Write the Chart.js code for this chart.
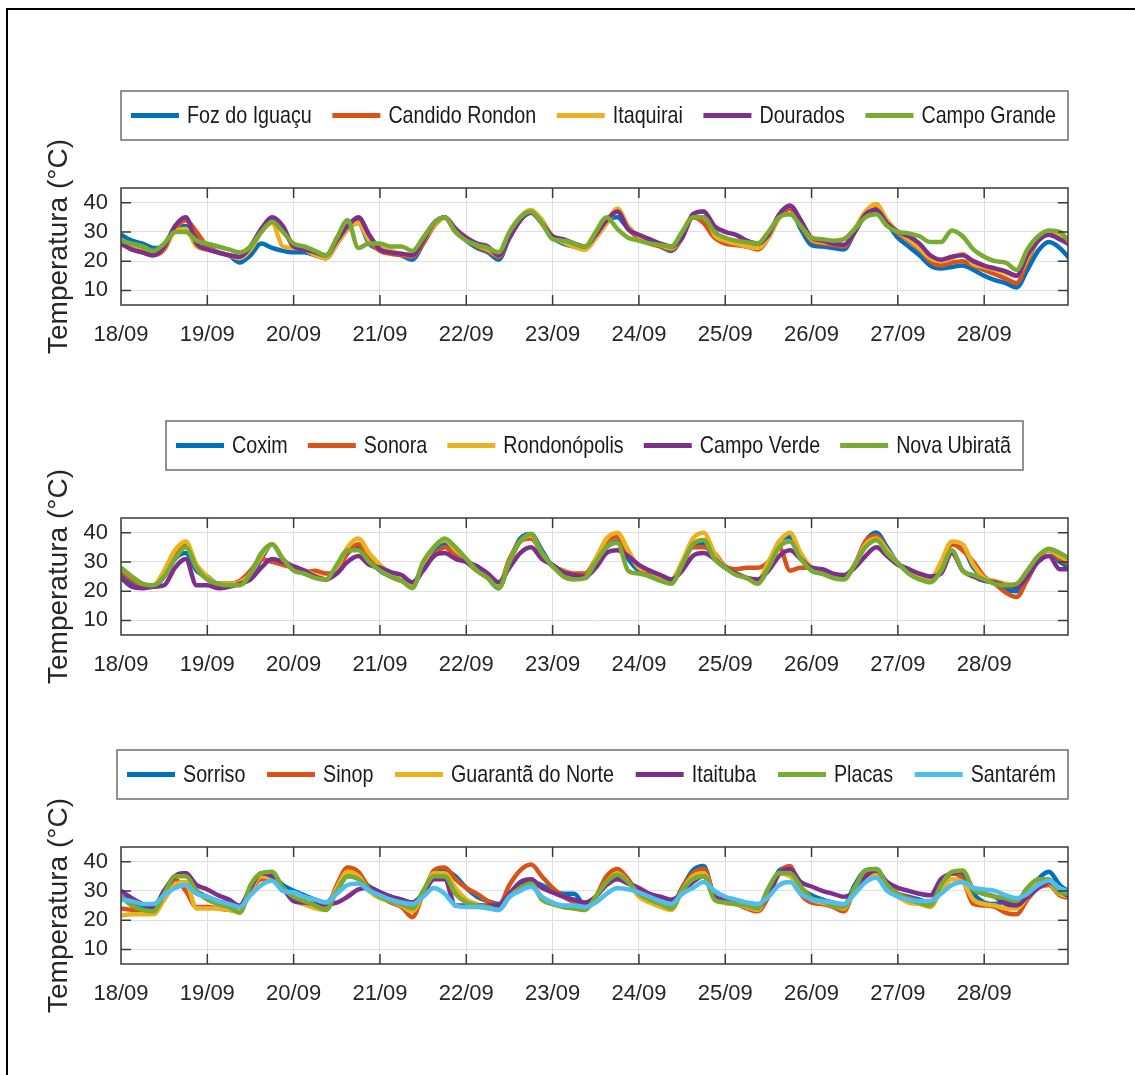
<!DOCTYPE html>
<html><head><meta charset="utf-8">
<script src="https://cdn.jsdelivr.net/npm/chart.js@4.4.1/dist/chart.umd.min.js"></script>
<style>
html,body{margin:0;padding:0;background:#fff;width:1135px;height:1075px;overflow:hidden}
#frame{position:absolute;left:6px;top:8px;right:0;bottom:0;border-top:2px solid #000;border-left:2px solid #000}
canvas{position:absolute;left:0}
</style></head><body>
<div id="frame"></div>
<canvas id="p1" width="1135" height="285" style="top:80px"></canvas>
<canvas id="p2" width="1135" height="285" style="top:410px"></canvas>
<canvas id="p3" width="1135" height="285" style="top:739px"></canvas>
<script>
// ---------- DATA ----------
// time axis: hours since 18/09 00:00, every 3 h
const hours = Array.from({length: 89}, (_, i) => i * 3);
const xTickHours = [0, 24, 48, 72, 96, 120, 144, 168, 192, 216, 240];
const xTickLabels = ['18/09','19/09','20/09','21/09','22/09','23/09','24/09','25/09','26/09','27/09','28/09'];
const yTicks = [10, 20, 30, 40];
const yTitle = 'Temperatura (°C)';

// Panel 1
const names1 = ['Foz do Iguaçu','Candido Rondon','Itaquirai','Dourados','Campo Grande'];
const fozDoIguacu = [
 29,27,26,24.5,25,31,32,28,
 25,23,22,19.5,22,26,24.5,23.5,
 23,23,22,21,26,31,33,26,
 24,23,22,20.5,26,32,35,31,
 27,24.5,23,20.5,28,34,37,33,
 28,26,25,24.5,29,34,35,31,
 28,26.5,25,23.5,28,35,35,30,
 27,26,25,24.5,29,35,38,31,
 25.5,25,24.5,24,30,36,37,33,
 28,25,22,18.5,17.5,18,18.5,17,
 15,13.5,12.5,11,17,23.5,26.5,24.5,20.5];
const candidoRondon = [
 26,24,23,22,24,31,34,30,
 25,23,22,21,24,30,34,31,
 25,24,22.5,21,26,31,34,27,
 23.5,22.5,22,21.5,26,32,35,30,
 27.5,25,23.5,21.5,28,34,37,34,
 28,26.5,25,24,28,33,37.5,31,
 28,26,25,24,28,35,33,28,
 26,25.5,25,24,28,35,38,32,
 27,26,25.5,25,30,36,38.5,33,
 29.5,27,24,20,18.5,19.5,20,18.5,
 17,15.5,14,12.5,20,27,29,28,25.5];
const itaquirai = [
 27,25,24,23,25,30,31,25,
 24,23,22,21,24,30,33,25,
 24.5,24,22,21,26,31,33,27,
 25,23.5,22.5,22,27,32,35,31,
 28,25.5,24,22,28,35,37.5,34,
 28.5,26.5,25,24,28,33,38,32,
 28.5,27,25.5,24.5,28,36,37,29,
 27,26,25,24.5,28,35,36,33,
 27.5,26.5,26,25.5,31,37,39.5,34,
 30,27.5,24.5,21,20,21,22.5,19,
 18,17,16,15,21,28,30,29,26.5];
const dourados = [
 26,24,23,22,25,32,35,26,
 24,23,22,21.5,25,31,35,32,
 25,24,23,22,27,32,35,29,
 24,23,22.5,22,27,33,35,31,
 28,26,25,22,28,34,36.5,33,
 28.5,27.5,26,25,29,34,37,31,
 29,27.5,26,25,28,36,37,32,
 30,29,27,26,29,36,39,34,
 28,27,26,25.5,30,36,37.5,33,
 30,28.5,26,22,20.5,21.5,22,20,
 18.5,17.5,16.5,15,22,27,29,27.5,25.5];
const campoGrande = [
 27,26,25,23.5,26,30,30,27,
 26,25,24,23,25,30,33.5,30,
 26,25,23.5,22,28,34,24.5,26,
 26,25,25,23.5,28,33,35,30,
 27,25.5,24.5,23,30,35,37,33,
 27.5,27,26,25,30,35,31,28,
 27,26,25.5,25,30,35,35,30,
 28,27,26.5,26,30,35,36,32,
 28,27.5,27,27.5,31,35,36,32,
 30,29.5,28.5,26.5,26.5,30.5,28.5,24,
 21.5,20,19.5,17,24,28.5,30.5,30,26];

// Panel 2
const names2 = ['Coxim','Sonora','Rondonópolis','Campo Verde','Nova Ubiratã'];
const coxim = [
 26,23,21.5,21.5,25,31,33,27,
 25,22.5,22.5,22.5,25,31,36,31,
 28,26,25,24,27,33,35,31,
 27,25,23.5,22,28,34,36,33,
 30,27,24.5,21,30,38,39.5,34,
 28.5,27,25,24.5,30,35,37,31,
 27,26,24.5,23,29,36,36,31,
 28,26,24.5,23,28,37,38.5,32,
 27,26,25,24.5,29,37,40,35,
 29.5,27.5,25,24,28,36,35,28,
 24.5,22.5,20.5,20,24,31,34,30,28];
const sonora = [
 27,24,22,21.5,26,33,36,28,
 24,22.5,22.5,23.5,27,31,30,29,
 28,26.5,27,26,27,33,36,32,
 28,25,23.5,22.5,28,32,35,32,
 30,27,24.5,22,31,37,38,33,
 28.5,27,26,26,31,37,38.5,33,
 28,26,24.5,24,29,35,35,33,
 28.5,27.5,28,28,30,35,27,28,
 28,26.5,25,25,29,37,39,34,
 29.5,27,25.5,24.5,29,36,34,30,
 25,22.5,19.5,18,24,31,34,31,29];
const rondonopolis = [
 28,25,22.5,22,27,34,37,29,
 25,22.5,22.5,23,26,32,36,31,
 28,27,25.5,24,28,35,38,33,
 29,26,23.5,22,29,35,37.5,34,
 31,27,24.5,22,30,37,39,33,
 28.5,27,25,25,31,38,40,34,
 28,27,24.5,24,30,38,40,33,
 28,26,24.5,23.5,30,37,40,33,
 28,26,25,25,29,36,38,34,
 29.5,27,25,24,30,37,36,29,
 24.5,23.5,22.5,22,27,32,34,32,30];
const campoVerde = [
 24.5,21.5,21,21.5,22,28,31,22,
 22,21,21.5,22.5,24,28,31,30,
 28.5,27,25,24,26,30,32,29,
 28,26.5,25.5,23,27,32,33,31,
 30,28.5,26,23,28,33,35,31,
 29,26.5,25.5,25,28,33,34,32,
 29,27,25.5,24,27,32,33,31,
 28,26,24.5,24,27,32,34,31,
 28,27.5,26,25.5,28,32,35,32,
 29,27.5,26,25,26,33,27,25,
 23.5,23,22,21.5,25,30,32,27.5,27.5];
const novaUbirata = [
 28,25,22.5,22,25,31,35,28,
 24,22.5,22,22,26,33,36,31,
 27,26,24.5,24,29,34,34,30,
 27,25,23.5,21,30,35,38,35,
 31,27,24.5,21,30,37,39.5,33,
 28.5,25,24,24.5,30,35,36.5,27,
 26,25,23.5,22.5,29,36,37.5,31,
 28,25.5,24.5,22.5,28,35,37,31,
 27,26,24.5,24,29,35,37.5,33,
 29.5,26,24,23,27,34,27,25.5,
 24,22.5,22,22.5,27,32,34.5,33,31];

// Panel 3
const names3 = ['Sorriso','Sinop','Guarantã do Norte','Itaituba','Placas','Santarém'];
const sorriso = [
 28,26,24.5,24,30,35,36,30,
 28,26.5,25.5,24,31,35,35,32,
 30,28.5,27,26,30,35,34.5,31.5,
 29.5,28,27,26,29,35,37,35,
 31,28,26.5,25.5,29,32,33,32,
 30,29,29,25,28,33,35,33,
 29.5,27.5,26.5,25,31,37,38.5,28,
 26.5,25.5,25,24,28,37,38,31,
 28.5,27,26,25,32,37,37.5,32,
 29,28,27,26,32,36,35,29,
 26,25.5,26.5,25.5,28.5,34,36.5,32,29.5];
const sinop = [
 24,23.5,23,22.5,28,34,30,24.5,
 24.5,24,23.5,23,30,34,34,31,
 27,25.5,24.5,24,32,38,36.5,31,
 28,26,24.5,21,29,37,38,34,
 31,29,26.5,25,32,37,39,35,
 31,28,26,24.5,28,35,37.5,34,
 28.5,26.5,25,24.5,31,36,37.5,28.5,
 26,25.5,24,23,28,36,38.5,29,
 26,25.5,24.5,23,31,36,36,32,
 29,27.5,26.5,26,31,36,34,25.5,
 25,24.5,22.5,22,27,31,32,28.5,27.5];
const guarantaDoNorte = [
 21.5,22,22,22,27,32,33,24,
 24,24,23.5,23,30,35,34,31,
 27,25.5,24,23.5,31,36.5,35,30,
 27.5,26.5,25,23,29,36,36,31,
 27,25.5,24.5,23.5,28,31,32,28,
 26,24.5,24,23.5,28,33,36,33,
 28,26,24.5,23.5,30,35,36,28,
 26,25.5,24.5,23.5,30,36,35,31,
 27,26,25,24,31,35,35.5,31,
 28,26,25.5,24.5,30,34,33,27,
 25.5,25,24,24,28,34,33,29,28];
const itaituba = [
 30,27.5,25.5,24.5,30,35,36,32,
 30.5,28.5,27,25,31,36,35,31,
 26.5,26,25.5,25.5,26,28,30.5,31,
 29.5,28,27,26,29,34,34,25,
 25,25,25,25,29,33,34,31,
 29.5,28,27,26,28,32,34,32.5,
 31,29,28,27,29,33,35,28,
 27,26,25.5,24.5,29,36,37.5,33,
 31.5,30,29,28,30,35,37,33,
 31,30,29,28.5,34,36,36.5,30.5,
 29,28,25.5,25,28,31,33,30,28];
const placas = [
 28,25,23.5,23,29,35,35,30,
 27,25.5,24.5,22.5,32,36,36.5,31,
 28,26.5,25,23.5,30,35,34,30.5,
 28,26.5,25.5,24,30,35,35,29,
 26,25,24.5,23.5,28,31,32.5,27,
 25.5,24.5,24,23.5,28,33,35.5,33,
 29,27,25.5,24,30,34,35,27,
 26,25.5,25,24,31,36,36,31.5,
 27.5,26.5,25,24.5,31,37,37.5,32,
 29,27,26,25,32,36.5,37,30.5,
 29,28,27.5,26.5,31,34,34,29.5,29];
const santarem = [
 27,26.5,25.5,25.5,28.5,31,32,29,
 28,26.5,25.5,24.5,28.5,32,33.5,30,
 29.5,28,27,26,29,32,32.5,30,
 28.5,27,26,25.5,28,31,29,25,
 24.5,24.5,24,23.5,28,30,31.5,28,
 26,25,25,24.5,26,29,31,30.5,
 29.5,28,26.5,25.5,29,31,33,30,
 28,27,26,25.5,28,32,33,29,
 27,26.5,26,25.5,29,33,34.5,30,
 28,27,26.5,26.5,29,32,33,31,
 30.5,30,28.5,27.5,29,32,33.5,31,29.5];

const colors = ['#0072BD','#D95319','#EDB120','#7E2F8E','#77AC30','#4DBEEE'];

// ---------- FONTS ----------
function hasFont(name){
  const c = document.createElement('canvas').getContext('2d');
  const s = '18/09 Foz do Iguaçu Campo Grande';
  c.font = '40px monospace'; const w1 = c.measureText(s).width;
  c.font = '40px "' + name + '", monospace'; const w2 = c.measureText(s).width;
  return Math.abs(w1 - w2) > 0.5;
}
const NARROW = hasFont('Liberation Sans Narrow');
const TEXT_FAMILY = NARROW ? '"Liberation Sans Narrow", "Liberation Sans", Arial, sans-serif' : '"Liberation Sans", Arial, sans-serif';
const REG_FAMILY = '"Liberation Sans", Arial, sans-serif';
const X_TICK_SIZE = NARROW ? 26 : 22;
const Y_TICK_SIZE = NARROW ? 25 : 22;
const LEGEND_SIZE = 24;
const LEGEND_SX = NARROW ? 1 : 0.82;
const INK = '#262626';

// ---------- PLUGINS ----------
const axesBox = {
  id: 'axesBox',
  afterDatasetsDraw(chart) {
    const {ctx, chartArea: a, scales: {x, y}} = chart;
    ctx.save();
    ctx.strokeStyle = '#3a3a3a'; ctx.lineWidth = 1.5;
    ctx.strokeRect(a.left, a.top, a.right - a.left, a.bottom - a.top);
    ctx.beginPath();
    x.ticks.forEach(t => {
      const px = x.getPixelForValue(t.value);
      if (px <= a.left + 1) return;
      ctx.moveTo(px, a.bottom); ctx.lineTo(px, a.bottom - 10);
      ctx.moveTo(px, a.top); ctx.lineTo(px, a.top + 10);
    });
    y.ticks.forEach(t => {
      const py = y.getPixelForValue(t.value);
      ctx.moveTo(a.left, py); ctx.lineTo(a.left + 10, py);
      ctx.moveTo(a.right, py); ctx.lineTo(a.right - 10, py);
    });
    ctx.stroke();
    ctx.restore();
  }
};

const boxLegend = {
  id: 'boxLegend',
  afterDraw(chart, args, opts) {
    const {ctx, chartArea: a} = chart;
    const ds = chart.data.datasets;
    const top = a.top - 97, bottom = a.top - 48, mid = (top + bottom) / 2;
    ctx.save();
    ctx.font = LEGEND_SIZE + 'px ' + TEXT_FAMILY;
    const tw = ds.map(d => ctx.measureText(d.label).width * LEGEND_SX);
    const itemW = tw.map(w => 48 + 8 + w);
    const inner = opts.right - opts.left - 10 - 12;
    const gap = (inner - itemW.reduce((s, w) => s + w, 0)) / (ds.length - 1);
    ctx.fillStyle = '#fff';
    ctx.fillRect(opts.left, top, opts.right - opts.left, bottom - top);
    ctx.strokeStyle = '#6e6e6e'; ctx.lineWidth = 1.5;
    ctx.strokeRect(opts.left, top, opts.right - opts.left, bottom - top);
    let x = opts.left + 10;
    ds.forEach((d, i) => {
      ctx.strokeStyle = d.borderColor; ctx.lineWidth = 5;
      ctx.beginPath(); ctx.moveTo(x, mid); ctx.lineTo(x + 48, mid); ctx.stroke();
      ctx.fillStyle = '#1a1a1a'; ctx.textBaseline = 'middle'; ctx.textAlign = 'left';
      ctx.save(); ctx.translate(x + 56, mid + 1); ctx.scale(LEGEND_SX, 1);
      ctx.fillText(d.label, 0, 0); ctx.restore();
      x += itemW[i] + gap;
    });
    ctx.restore();
  }
};

// ---------- CHARTS ----------
function makePanel(id, names, series, legendLeft, legendRight) {
  const n = names.length;
  return new Chart(document.getElementById(id), {
    type: 'line',
    data: {
      datasets: names.map((name, i) => ({
        label: name,
        data: hours.map((h, j) => ({x: h, y: series[i][j]})),
        borderColor: colors[i],
        backgroundColor: colors[i],
        borderWidth: 4.5,
        pointRadius: 0,
        cubicInterpolationMode: 'monotone',
        order: n - i
      }))
    },
    options: {
      responsive: false,
      animation: false,
      events: [],
      layout: {padding: {left: 0, right: 67, top: 108, bottom: 0}},
      plugins: {
        legend: {display: false},
        tooltip: {enabled: false},
        boxLegend: {left: legendLeft, right: legendRight}
      },
      scales: {
        x: {
          type: 'linear', min: 0, max: 263.3,
          afterBuildTicks: s => { s.ticks = xTickHours.map(v => ({value: v})); },
          afterFit: s => { s.height = 60; },
          ticks: {
            callback: (v, i) => xTickLabels[i],
            autoSkip: false, maxRotation: 0, minRotation: 0, padding: 17,
            font: {family: TEXT_FAMILY, size: X_TICK_SIZE}, color: INK
          },
          grid: {color: '#dfdfdf', lineWidth: 1, drawTicks: false},
          border: {display: false}
        },
        y: {
          type: 'linear', min: 5, max: 45,
          afterBuildTicks: s => { s.ticks = yTicks.map(v => ({value: v})); },
          afterFit: s => { s.width = 121; },
          ticks: {padding: 13, font: {family: TEXT_FAMILY, size: Y_TICK_SIZE}, color: INK},
          grid: {color: '#dfdfdf', lineWidth: 1, drawTicks: false},
          border: {display: false},
          title: {display: true, text: yTitle, color: INK,
                  font: {family: REG_FAMILY, size: 28}, padding: {top: 42, bottom: 0}}
        }
      }
    },
    plugins: [axesBox, boxLegend]
  });
}

makePanel('p1', names1, [fozDoIguacu, candidoRondon, itaquirai, dourados, campoGrande], 121, 1068);
makePanel('p2', names2, [coxim, sonora, rondonopolis, campoVerde, novaUbirata], 166, 1023);
makePanel('p3', names3, [sorriso, sinop, guarantaDoNorte, itaituba, placas, santarem], 117, 1068);
</script></body></html>
